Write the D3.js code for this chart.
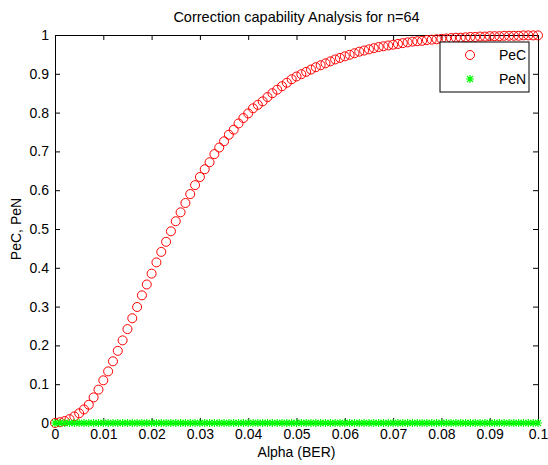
<!DOCTYPE html>
<html>
<head>
<meta charset="utf-8">
<script src="https://cdn.jsdelivr.net/npm/d3@7"></script>
<style>
  html, body { margin: 0; padding: 0; background: #fff; }
  svg { display: block; font-family: "Liberation Sans", Arial, sans-serif; }
</style>
</head>
<body>
<div id="chart"></div>
<script>
// Correction capability plot
var alpha = [];
for (var k = 0; k <= 100; k++) alpha.push(k / 1000);   // 0 : 0.001 : 0.1

var pec = [
  0.000, 0.002, 0.005, 0.010, 0.017, 0.025, 0.035, 0.047, 0.066, 0.086,
  0.110, 0.133, 0.159, 0.186, 0.213, 0.242, 0.270, 0.299, 0.329, 0.357,
  0.385, 0.414, 0.441, 0.467, 0.494, 0.520, 0.543, 0.567, 0.590, 0.613,
  0.634, 0.654, 0.672, 0.693, 0.710, 0.726, 0.743, 0.756, 0.772, 0.786,
  0.798, 0.811, 0.820, 0.829, 0.840, 0.850, 0.859, 0.868, 0.877, 0.886,
  0.893, 0.899, 0.905, 0.911, 0.917, 0.922, 0.927, 0.932, 0.937, 0.941,
  0.945, 0.949, 0.953, 0.957, 0.960, 0.963, 0.966, 0.969, 0.971, 0.973,
  0.975, 0.977, 0.979, 0.981, 0.983, 0.984, 0.985, 0.987, 0.988, 0.989,
  0.990, 0.991, 0.992, 0.993, 0.993, 0.994, 0.995, 0.995, 0.996, 0.996,
  0.997, 0.997, 0.997, 0.998, 0.998, 0.998, 0.998, 0.999, 0.999, 0.999,
  0.999
];

var pen = [
  0, 0, 0, 0, 0, 0, 0, 0, 0, 0,
  0, 0, 0, 0, 0, 0, 0, 0, 0, 0,
  0, 0, 0, 0, 0, 0, 0, 0, 0, 0,
  0, 0, 0, 0, 0, 0, 0, 0, 0, 0,
  0, 0, 0, 0, 0, 0, 0, 0, 0, 0,
  0, 0, 0, 0, 0, 0, 0, 0, 0, 0,
  0, 0, 0, 0, 0, 0, 0, 0, 0, 0,
  0, 0, 0, 0, 0, 0, 0, 0, 0, 0,
  0, 0, 0, 0, 0, 0, 0, 0, 0, 0,
  0, 0, 0, 0, 0, 0, 0, 0, 0, 0,
  0
];

var xTicks = [0, 0.01, 0.02, 0.03, 0.04, 0.05, 0.06, 0.07, 0.08, 0.09, 0.1];
var yTicks = [0, 0.1, 0.2, 0.3, 0.4, 0.5, 0.6, 0.7, 0.8, 0.9, 1];
var seriesNames = ['PeC', 'PeN'];

var W = 548, H = 465;
var m = { left: 55, right: 10, top: 35, bottom: 42 };
var pw = W - m.left - m.right;
var ph = H - m.top - m.bottom;

var svg = d3.select('#chart').append('svg')
  .attr('width', W)
  .attr('height', H);

var x = d3.scaleLinear().domain([0, 0.1]).range([0, pw]);
var y = d3.scaleLinear().domain([0, 1]).range([ph, 0]);

var g = svg.append('g')
  .attr('transform', 'translate(' + m.left + ',' + m.top + ')');

g.append('rect')
  .attr('width', pw)
  .attr('height', ph)
  .attr('fill', '#fff');

// axes, ticks inside like matlab
function fmt(d) { return d === 0 ? '0' : String(+d.toFixed(2)); }

var bottomAxis = g.append('g')
  .attr('transform', 'translate(0,' + ph + ')')
  .call(d3.axisBottom(x).tickValues(xTicks).tickFormat(fmt).tickSizeInner(-5).tickSizeOuter(0).tickPadding(6));
var topAxis = g.append('g')
  .call(d3.axisTop(x).tickValues(xTicks).tickFormat('').tickSizeInner(-5).tickSizeOuter(0));
var leftAxis = g.append('g')
  .call(d3.axisLeft(y).tickValues(yTicks).tickFormat(fmt).tickSizeInner(-5).tickSizeOuter(0).tickPadding(6));
var rightAxis = g.append('g')
  .attr('transform', 'translate(' + pw + ',0)')
  .call(d3.axisRight(y).tickValues(yTicks).tickFormat('').tickSizeInner(-5).tickSizeOuter(0));

[bottomAxis, topAxis, leftAxis, rightAxis].forEach(function(a) {
  a.select('.domain').attr('stroke', '#000').attr('stroke-width', 1);
  a.selectAll('.tick line').attr('stroke', '#000');
  a.selectAll('.tick text')
    .attr('fill', '#000')
    .attr('font-size', '14px')
    .attr('font-family', '"Liberation Sans", Arial, sans-serif');
});

// PeC markers (red open circles)
g.append('g').selectAll('circle')
  .data(alpha)
  .enter().append('circle')
  .attr('cx', function(d) { return x(d); })
  .attr('cy', function(d, i) { return y(pec[i]); })
  .attr('r', 4.5)
  .attr('fill', 'none')
  .attr('stroke', '#ff0000')
  .attr('stroke-width', 1);

// PeN markers (green asterisks)
var star = 'M-4,0L4,0M0,-4L0,4M-3,-3L3,3M-3,3L3,-3';
g.append('g').selectAll('path')
  .data(alpha)
  .enter().append('path')
  .attr('transform', function(d, i) { return 'translate(' + x(d) + ',' + y(pen[i]) + ')'; })
  .attr('d', star)
  .attr('fill', 'none')
  .attr('stroke', '#00ff00')
  .attr('stroke-width', 1.2);

// title and axis labels
svg.append('text')
  .attr('x', m.left + pw / 2)
  .attr('y', 22)
  .attr('text-anchor', 'middle')
  .attr('font-size', '14.5px')
  .text('Correction capability Analysis for n=64');

svg.append('text')
  .attr('x', m.left + pw / 2)
  .attr('y', 457)
  .attr('text-anchor', 'middle')
  .attr('font-size', '14px')
  .text('Alpha (BER)');

svg.append('text')
  .attr('transform', 'translate(21,' + (m.top + ph / 2) + ') rotate(-90)')
  .attr('text-anchor', 'middle')
  .attr('font-size', '14px')
  .text('PeC, PeN');

// legend
var lg = g.append('g')
  .attr('transform', 'translate(' + (pw - 98) + ',7)');
lg.append('rect')
  .attr('width', 89)
  .attr('height', 50)
  .attr('fill', '#fff')
  .attr('stroke', '#000')
  .attr('stroke-width', 1);
lg.append('circle')
  .attr('cx', 30).attr('cy', 13).attr('r', 4.5)
  .attr('fill', 'none').attr('stroke', '#ff0000');
lg.append('path')
  .attr('transform', 'translate(30,37)')
  .attr('d', star)
  .attr('fill', 'none').attr('stroke', '#00ff00').attr('stroke-width', 1.2);
lg.selectAll('text.lab')
  .data(seriesNames)
  .enter().append('text')
  .attr('class', 'lab')
  .attr('x', 59)
  .attr('y', function(d, i) { return 18 + i * 24; })
  .attr('font-size', '14px')
  .text(function(d) { return d; });
</script>
</body>
</html>
